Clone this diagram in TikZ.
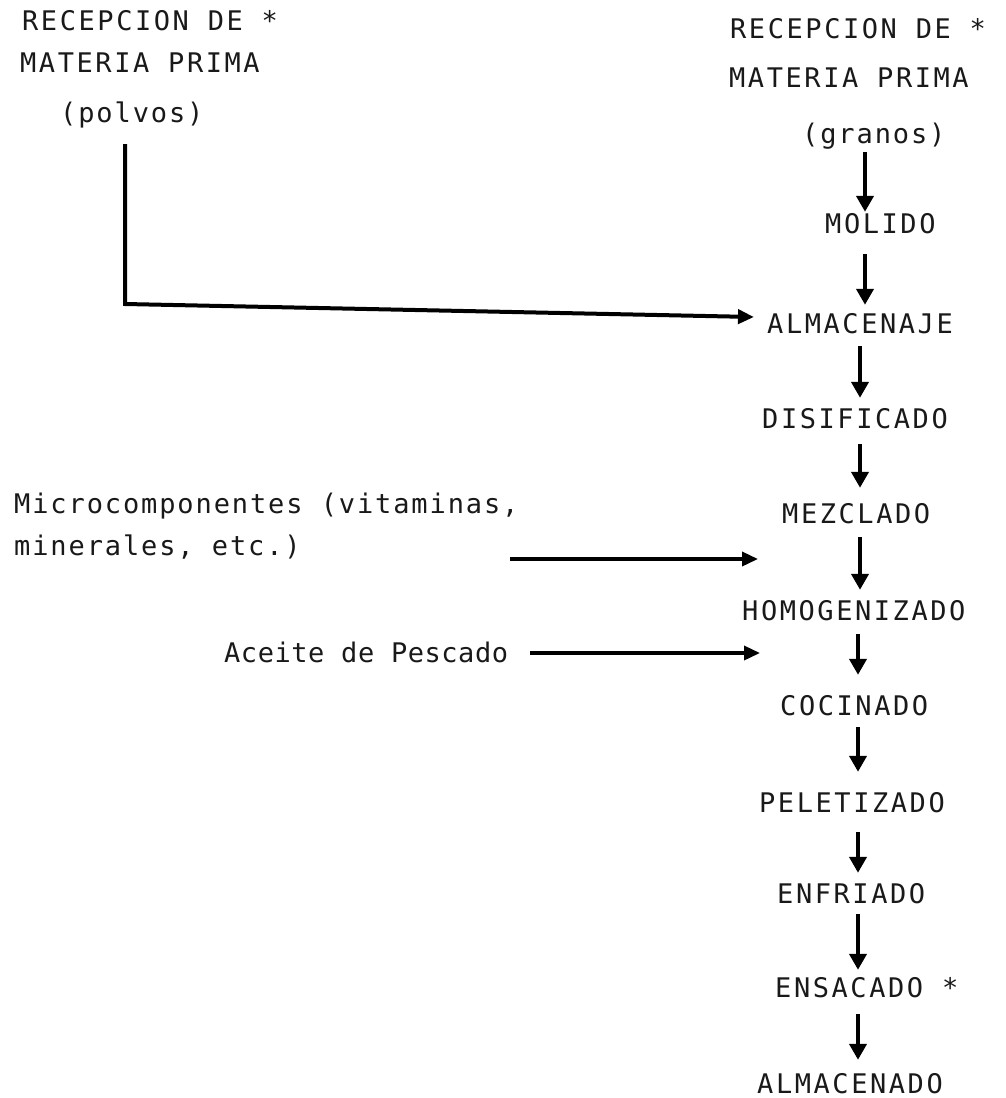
\documentclass[tikz,border=0pt]{standalone}
\usepackage{fontspec}
\newfontfamily\twA[LetterSpace=9.5]{DejaVu Sans Mono}
\newfontfamily\twB[LetterSpace=7]{DejaVu Sans Mono}
\newfontfamily\twC[LetterSpace=2]{DejaVu Sans Mono}
\usetikzlibrary{arrows.meta}
\begin{document}
\begin{tikzpicture}[x=1pt,y=-1pt,
  lbl/.style={anchor=base west, inner sep=2pt, text height=19pt, text depth=5pt,
    font={\twA\fontsize{27}{32}\selectfont}, text=black!90},
  lblb/.style={lbl, font={\twB\fontsize{27}{32}\selectfont}},
  lblc/.style={lbl, font={\twC\fontsize{27}{32}\selectfont}},
  varrow/.style={line width=4.5pt, -{Triangle[length=16pt,width=17pt]}},
  harrow/.style={line width=3.5pt, -{Triangle[length=16pt,width=14pt]}}]
\useasboundingbox (0,0) rectangle (1006,1098);

% left column
\node[lbl] (tl1) at (20,30) {RECEPCION DE *};
\node[lbl] (tl2) at (18,72) {MATERIA PRIMA};
\node[lblb] (polvos) at (58,122) {(polvos)};

% right column
\node[lbl] (tr1) at (728,38) {RECEPCION DE *};
\node[lbl] (tr2) at (727,87) {MATERIA PRIMA};
\node[lblb] (granos) at (800,143) {(granos)};
\node[lbl] (molido) at (823,233) {MOLIDO};
\node[lbl] (almacenaje) at (765,333) {ALMACENAJE};
\node[lbl] (disificado) at (760,428) {DISIFICADO};
\node[lbl] (mezclado) at (780,523) {MEZCLADO};
\node[lbl] (homog) at (740,620) {HOMOGENIZADO};
\node[lbl] (cocinado) at (778,715) {COCINADO};
\node[lbl] (peletizado) at (757,812) {PELETIZADO};
\node[lbl] (enfriado) at (775,903) {ENFRIADO};
\node[lbl] (ensacado) at (773,997) {ENSACADO *};
\node[lbl] (almacenado) at (755,1093) {ALMACENADO};

% inputs
\node[lblb] (micro1) at (12,513) {Microcomponentes (vitaminas,};
\node[lblb] (micro2) at (12,555) {minerales, etc.)};
\node[lblc] (aceite) at (222,662) {Aceite de Pescado};

% column x positions of the vertical arrows
\coordinate (c1) at (865,0);
\coordinate (c3) at (860,0);
\coordinate (c4) at (858,0);

\draw[varrow, shorten <=2pt, shorten >=0pt] (granos.south -| c1) -- (molido.north -| c1);
\draw[varrow, shorten <=14pt, shorten >=7pt] (molido.south -| c1) -- (almacenaje.north -| c1);
\draw[varrow, shorten <=6pt, shorten >=9pt] (almacenaje.south -| c3) -- (disificado.north -| c3);
\draw[varrow, shorten <=9pt, shorten >=14pt] (disificado.south -| c3) -- (mezclado.north -| c3);
\draw[varrow, shorten <=7pt, shorten >=9pt] (mezclado.south -| c3) -- (homog.north -| c3);
\draw[varrow, shorten <=7pt, shorten >=19pt] (homog.south -| c4) -- (cocinado.north -| c4);
\draw[varrow, shorten <=5pt, shorten >=19pt] (cocinado.south -| c4) -- (peletizado.north -| c4);
\draw[varrow, shorten <=13pt, shorten >=9pt] (peletizado.south -| c4) -- (enfriado.north -| c4);
\draw[varrow, shorten <=4pt, shorten >=6pt] (enfriado.south -| c4) -- (ensacado.north -| c4);
\draw[varrow, shorten <=10pt, shorten >=12pt] (ensacado.south -| c4) -- (almacenado.north -| c4);

% polvos to almacenaje
\coordinate (pc) at (125,304);
\draw[line width=4pt, -{Triangle[length=16pt,width=14pt]}, shorten <=15pt, line join=miter]
  (polvos.south -| pc) -- (pc) -- ([xshift=-11pt,yshift=9pt]almacenaje.west);

% microcomponentes
\coordinate (mA) at (510,559);
\coordinate (mB) at (758,559);
\draw[harrow] (mA) -- (mB);

% aceite
\coordinate (aB) at (760,653);
\draw[harrow] ([xshift=20pt]aceite.east |- aB) -- (aB);
\end{tikzpicture}
\end{document}
